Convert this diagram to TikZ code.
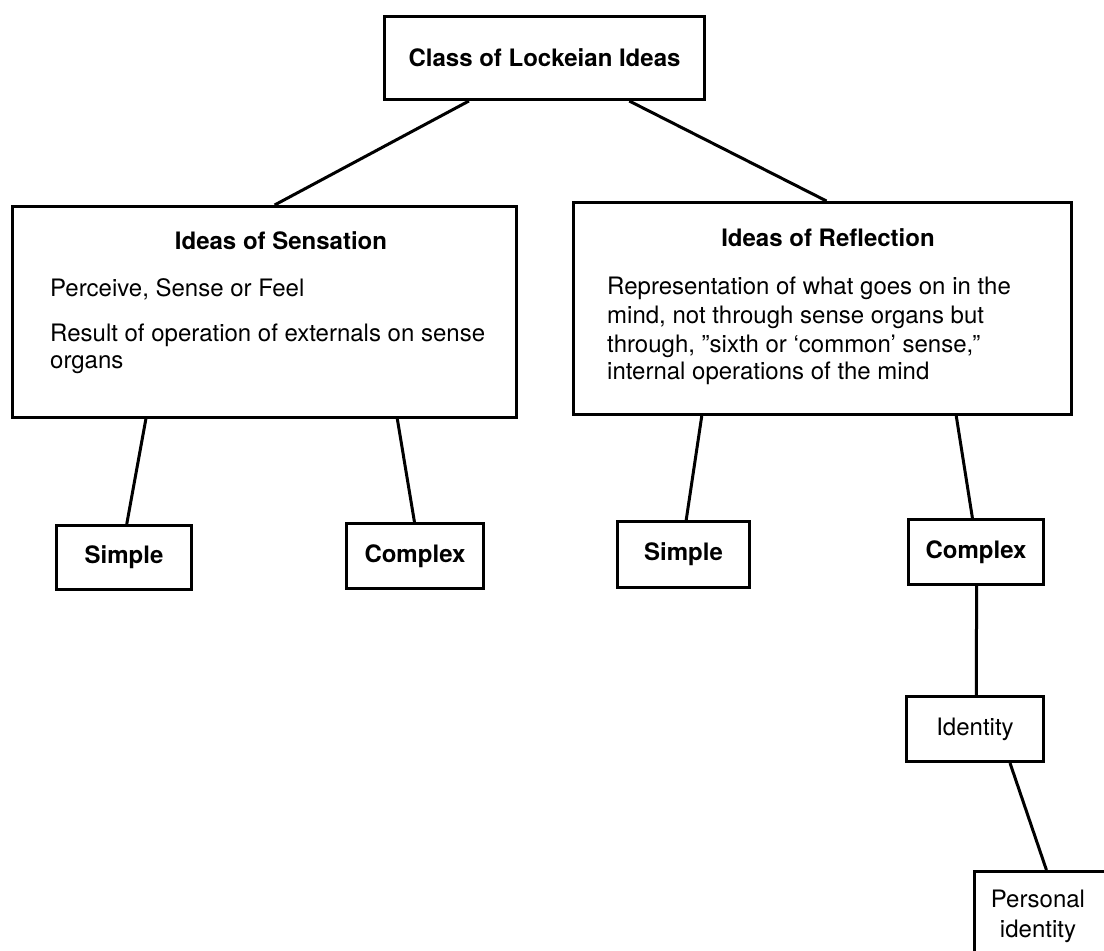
\documentclass[tikz,border=0pt]{standalone}
\usepackage{fontspec}
\setmainfont{TeX Gyre Heros}
\usetikzlibrary{calc}
\begin{document}
\begin{tikzpicture}[x=1pt,y=-1pt,
  box/.style={draw,line width=3pt,inner sep=0pt,rectangle,anchor=north west},
  link/.style={line width=3pt},
  txt/.style={inner sep=0pt,font=\fontsize{24}{28}\selectfont},
  btxt/.style={inner sep=0pt,font=\fontsize{24}{28}\selectfont\bfseries}]
\useasboundingbox (0,0) rectangle (1104,951);

% boxes
\node[box,minimum width=320,minimum height=83,font=\fontsize{24}{28}\selectfont\bfseries] (top) at (383,15) {Class of Lockeian Ideas};
\node[box,minimum width=504,minimum height=211] (sens) at (11,205) {};
\node[box,minimum width=498,minimum height=212] (refl) at (572,201) {};
\node[box,minimum width=135,minimum height=64,font=\fontsize{24}{28}\selectfont\bfseries] (simL) at (55,524) {Simple};
\node[box,minimum width=137,minimum height=65,font=\fontsize{24}{28}\selectfont\bfseries] (comL) at (345,522) {Complex};
\node[box,minimum width=132,minimum height=66,font=\fontsize{24}{28}\selectfont\bfseries] (simR) at (616,520) {Simple};
\node[box,minimum width=135,minimum height=65,font=\fontsize{24}{28}\selectfont\bfseries] (comR) at (907,518) {Complex};
\node[box,minimum width=137,minimum height=65,font=\fontsize{24}{28}\selectfont] (iden) at (905,695) {Identity};
\node[box,minimum width=150,minimum height=120] (pers) at (973,870) {};

% texts in big boxes
\node[btxt,anchor=base] (sensH) at (281,249) {Ideas of Sensation};
\node[txt,anchor=base west] (sens1) at (50,296) {Perceive, Sense or Feel};
\node[txt,anchor=base west] (sens2) at (50,341) {Result of operation of externals on sense};
\node[txt,anchor=base west] (sens3) at (50,368) {organs};

\node[btxt,anchor=base] (reflH) at (828,246) {Ideas of Reflection};
\node[txt,anchor=base west] (refl1) at (607,294) {Representation of what goes on in the};
\node[txt,anchor=base west] (refl2) at (607,323) {mind, not through sense organs but};
\node[txt,anchor=base west] (refl3) at (607,352) {through, ''sixth or `common' sense,''};
\node[txt,anchor=base west] (refl4) at (607,379) {internal operations of the mind};

\node[txt,anchor=base] (pers1) at (1038,907) {Personal};
\node[txt,anchor=base] (pers2) at (1038,937) {identity};

% connectors
\draw[link] ($(top.south west)!0.266!(top.south east)$) -- ($(sens.north west)!0.52!(sens.north east)$);
\draw[link] ($(top.south west)!0.7625!(top.south east)$) -- ($(refl.north west)!0.508!(refl.north east)$);
\draw[link] ($(sens.south west)!0.266!(sens.south east)$) -- ($(simL.north west)!0.52!(simL.north east)$);
\draw[link] ($(sens.south west)!0.762!(sens.south east)$) -- ($(comL.north west)!0.496!(comL.north east)$);
\draw[link] ($(refl.south west)!0.259!(refl.south east)$) -- ($(simR.north west)!0.52!(simR.north east)$);
\draw[link] ($(refl.south west)!0.767!(refl.south east)$) -- ($(comR.north west)!0.474!(comR.north east)$);
\draw[link] ($(comR.south west)!0.504!(comR.south east)$) -- ($(iden.north west)!0.51!(iden.north east)$);
\draw[link] ($(iden.south west)!0.75!(iden.south east)$) -- ($(pers.north west)!0.48!(pers.north east)$);
\end{tikzpicture}
\end{document}
